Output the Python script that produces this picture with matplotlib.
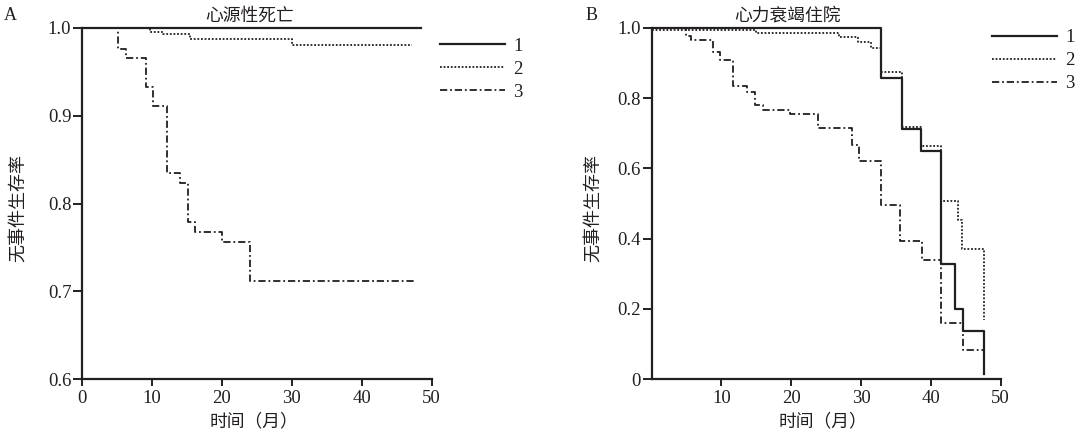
import matplotlib
matplotlib.use('Agg')
import matplotlib.pyplot as plt

# data (time in months, survival)
a1_t = [0, 48.4]
a1_s = [1.0, 1.0]
a2_t = [0, 9.8, 11.6, 15.4, 30.0, 47.2]
a2_s = [1.0, 0.995, 0.993, 0.987, 0.981, 0.981]
a3_t = [0, 5.2, 6.3, 9.2, 10.2, 12.2, 14.0, 15.2, 16.2, 20.0, 24.0, 47.8]
a3_s = [1.0, 0.976, 0.966, 0.933, 0.911, 0.835, 0.823, 0.779, 0.767, 0.756, 0.712, 0.712]

b1_t = [0, 32.8, 35.8, 38.6, 41.5, 43.5, 44.6, 47.6]
b1_s = [1.0, 0.857, 0.711, 0.650, 0.329, 0.200, 0.136, 0.014]
b2_t = [0, 14.9, 26.8, 29.6, 31.5, 32.8, 35.8, 38.6, 41.5, 43.9, 44.5, 47.6]
b2_s = [0.993, 0.986, 0.974, 0.959, 0.943, 0.876, 0.719, 0.664, 0.507, 0.452, 0.369, 0.167]
b3_t = [0, 5.0, 5.7, 8.8, 9.8, 11.6, 13.7, 14.8, 16.0, 19.8, 23.8, 28.7, 29.7,
        32.8, 35.6, 38.7, 41.5, 44.6, 47.5]
b3_s = [1.0, 0.978, 0.965, 0.933, 0.909, 0.835, 0.817, 0.781, 0.766, 0.755, 0.714,
        0.667, 0.621, 0.495, 0.392, 0.340, 0.159, 0.083, 0.083]

group_labels = ['1', '2', '3']
titles = ['心源性死亡', '心力衰竭住院']
panel_tags = ['A', 'B']
a_xticks = [0, 10, 20, 30, 40, 50]
b_xticks = [10, 20, 30, 40, 50]
a_yticks = [0.6, 0.7, 0.8, 0.9, 1.0]
b_yticks = [0, 0.2, 0.4, 0.6, 0.8, 1.0]
b_ytick_labels = ['0', '0.2', '0.4', '0.6', '0.8', '1.0']

ink = '#231f20'
num_font = 'Liberation Serif'
cjk_font = ['Noto Sans CJK SC', 'DejaVu Sans']
W, H = 1080, 438

fig = plt.figure(figsize=(W / 100, H / 100), dpi=100)
axA = fig.add_axes([81.7 / W, 1 - 379 / H, 350 / W, 351 / H])
axB = fig.add_axes([651.5 / W, 1 - 379 / H, 349.2 / W, 351 / H])

styles = [dict(linestyle='-', linewidth=1.6),
          dict(linestyle=(0, (1.0, 1.0)), linewidth=1.3),
          dict(linestyle=(0, (4.0, 1.6, 1.0, 1.6)), linewidth=1.3)]


def style_axes(ax):
    for side in ['top', 'right']:
        ax.spines[side].set_visible(False)
    for side in ['left', 'bottom']:
        ax.spines[side].set_linewidth(1.6)
        ax.spines[side].set_color(ink)
    ax.tick_params(axis='both', direction='out', width=1.4, color=ink,
                   labelcolor=ink, labelsize=13.5)
    ax.tick_params(axis='y', length=6.5, pad=1)
    ax.tick_params(axis='x', length=5, pad=3)
    for lab in ax.get_xticklabels() + ax.get_yticklabels():
        lab.set_fontfamily(num_font)


# panel A
for t, s, st, lab in zip([a1_t, a2_t, a3_t], [a1_s, a2_s, a3_s], styles, group_labels):
    axA.step(t, s, where='post', color=ink, label=lab, clip_on=False, **st)
axA.set_xlim(0, 50)
axA.set_ylim(0.6, 1.0)
axA.set_xticks(a_xticks)
axA.set_yticks(a_yticks)
axA.set_yticklabels(['%.1f' % v for v in a_yticks])
style_axes(axA)

# panel B
for t, s, st, lab in zip([b1_t, b2_t, b3_t], [b1_s, b2_s, b3_s], styles, group_labels):
    axB.step(t, s, where='post', color=ink, label=lab, clip_on=False, **st)
axB.set_xlim(0, 50)
axB.set_ylim(0, 1.0)
axB.set_xticks(b_xticks)
axB.set_yticks(b_yticks)
axB.set_yticklabels(b_ytick_labels)
style_axes(axB)

# legends
for ax, (lx, ly) in zip([axA, axB], [(440, 37.5), (991.7, 29)]):
    leg = ax.legend(loc='upper left', bbox_to_anchor=(lx / W, 1 - ly / H),
                    bbox_transform=fig.transFigure, frameon=False,
                    borderpad=0, borderaxespad=0, handlelength=3.47,
                    handletextpad=0.45, labelspacing=0.32,
                    prop={'family': num_font, 'size': 13.5})
    for txt in leg.get_texts():
        txt.set_color(ink)

# titles, panel tags, axis labels
fig.text(250 / W, 1 - 16 / H, titles[0], ha='center', va='center',
         family=cjk_font, fontsize=12.8, color=ink)
fig.text(787 / W, 1 - 16 / H, titles[1], ha='center', va='center',
         family=cjk_font, fontsize=12.8, color=ink)
fig.text(10 / W, 1 - 16 / H, panel_tags[0], ha='center', va='center',
         family=num_font, fontsize=13, color=ink)
fig.text(592 / W, 1 - 16 / H, panel_tags[1], ha='center', va='center',
         family=num_font, fontsize=13, color=ink)

for xc in [254, 823]:
    fig.text(xc / W, 1 - 421 / H, '时间（月）', ha='center', va='center',
             family=cjk_font, fontsize=12.8, color=ink)
for xc in [19, 594]:
    fig.text(xc / W, 1 - 208 / H, '无事件生存率', ha='center', va='center',
             rotation=90, family=cjk_font, fontsize=13, color=ink)

fig.savefig('out.png', dpi=100, facecolor='white')
